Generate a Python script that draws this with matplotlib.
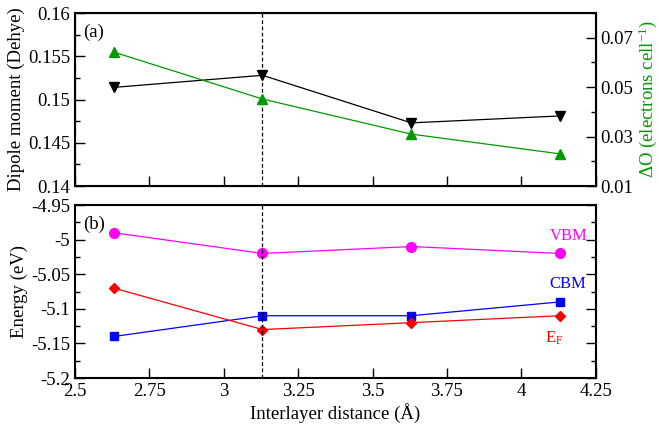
import numpy as np
import matplotlib.pyplot as plt
from matplotlib.ticker import MultipleLocator

plt.rcParams['font.family'] = ['Liberation Serif', 'DejaVu Serif']
plt.rcParams['mathtext.fontset'] = 'custom'
plt.rcParams['mathtext.rm'] = 'Liberation Serif'
plt.rcParams['mathtext.it'] = 'Liberation Serif:italic'

# interlayer distance (Angstrom)
dist = [2.63, 3.13, 3.63, 4.13]
# panel (a)
dipole = [0.1514, 0.1528, 0.1473, 0.1481]
dQ = [0.0642, 0.0452, 0.0310, 0.0230]
# panel (b)
vbm = [-4.99, -5.02, -5.01, -5.02]
cbm = [-5.14, -5.11, -5.11, -5.09]
ef = [-5.07, -5.13, -5.12, -5.11]
eq_dist = 3.13

fs = 13.5

def style(ax, right=True):
	ax.tick_params(which='both', direction='in', top=False, right=right, labelsize=fs)
	ax.tick_params(which='major', length=7, width=1)
	ax.tick_params(which='minor', length=3.5, width=1)
	for s in ax.spines.values():
		s.set_linewidth(1.5)

fig = plt.figure(figsize=(6.59, 4.28), dpi=100)
ax1 = fig.add_axes([0.1138, 0.5654, 0.7903, 0.4042])
ax2 = fig.add_axes([0.1138, 0.1168, 0.7903, 0.4042])

# (a)
ax1.plot(dist, dipole, 'k-', marker='v', ms=6.5, lw=0.9)
ax1.axvline(eq_dist, color='k', ls='--', lw=0.9, dashes=(3, 2))
ax1.set_xlim(2.5, 4.25)
ax1.set_ylim(0.14, 0.16)
ax1.xaxis.set_major_locator(MultipleLocator(0.25))
ax1.yaxis.set_minor_locator(MultipleLocator(0.0025))
ax1.set_yticks([0.14, 0.145, 0.15, 0.155, 0.16])
ax1.set_yticklabels(['0.14', '0.145', '0.15', '0.155', '0.16'])
ax1.set_xticklabels([])
ax1.set_ylabel('Dipole moment (Dehye)', fontsize=fs, labelpad=2)
style(ax1, right=False)
ax1.text(0.015, 0.94, '(a)', transform=ax1.transAxes, fontsize=fs, va='top')

ax1r = ax1.twinx()
ax1r.plot(dist, dQ, '-', color='#009900', marker='^', ms=6.5, lw=0.9)
ax1r.set_ylim(0.01, 0.08)
ax1r.set_yticks([0.01, 0.03, 0.05, 0.07])
ax1r.set_yticklabels(['0.01', '0.03', '0.05', '0.07'])
ax1r.yaxis.set_minor_locator(MultipleLocator(0.01))
ax1r.tick_params(which='both', direction='in', labelsize=fs)
ax1r.tick_params(which='major', length=7, width=1)
ax1r.tick_params(which='minor', length=3.5, width=1)
ax1r.set_ylabel('ΔO (electrons cell$^{-1}$)', color='#009900', fontsize=fs, labelpad=2)

# (b)
ax2.plot(dist, vbm, '-', color='magenta', marker='o', ms=7, lw=0.9)
ax2.plot(dist, cbm, '-', color='blue', marker='s', ms=6, lw=0.9)
ax2.plot(dist, ef, '-', color='red', marker='D', ms=5, lw=0.9)
ax2.axvline(eq_dist, color='k', ls='--', lw=0.9, dashes=(3, 2))
ax2.set_xlim(2.5, 4.25)
ax2.set_ylim(-5.2, -4.95)
ax2.set_xticks([2.5, 2.75, 3.0, 3.25, 3.5, 3.75, 4.0, 4.25])
ax2.set_xticklabels(['2.5', '2.75', '3', '3.25', '3.5', '3.75', '4', '4.25'])
ax2.set_yticks([-5.2, -5.15, -5.1, -5.05, -5.0, -4.95])
ax2.set_yticklabels(['-5.2', '-5.15', '-5.1', '-5.05', '-5', '-4.95'])
ax2.yaxis.set_minor_locator(MultipleLocator(0.025))
ax2.set_xlabel('Interlayer distance (Å)', fontsize=fs, labelpad=2)
ax2.set_ylabel('Energy (eV)', fontsize=fs, labelpad=2)
style(ax2, right=True)
ax2.text(0.015, 0.94, '(b)', transform=ax2.transAxes, fontsize=fs, va='top')
ax2.text(4.095, -5.007, 'VBM', color='magenta', fontsize=fs - 1.5, va='bottom')
ax2.text(4.095, -5.076, 'CBM', color='blue', fontsize=fs - 1.5, va='bottom')
ax2.text(4.08, -5.13, 'E$_\\mathrm{F}$', color='red', fontsize=fs - 1.5, va='top')

fig.savefig('out.png', dpi=100)
